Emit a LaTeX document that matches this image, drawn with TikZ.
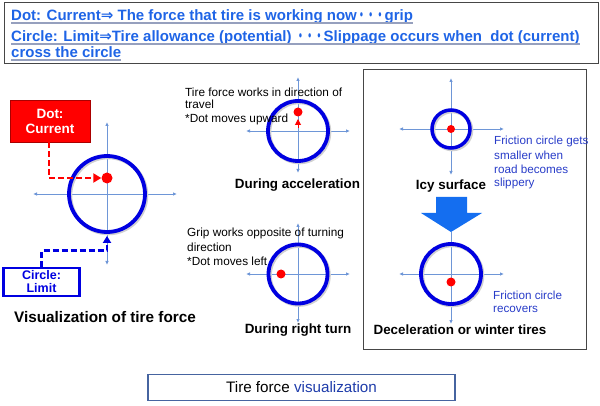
\documentclass[tikz,border=0pt]{standalone}
\usepackage{fontspec}
\usepackage{graphicx}
\setmainfont{Liberation Sans}
\newfontfamily\dejavu{DejaVu Sans}
\newfontfamily\cjk{Noto Sans CJK JP}
\usetikzlibrary{arrows.meta,calc}
\definecolor{tblue}{RGB}{30,100,230}
\definecolor{cblue}{RGB}{0,0,225}
\definecolor{axblue}{RGB}{110,150,215}
\definecolor{ulgray}{RGB}{150,160,190}
\definecolor{rtblue}{RGB}{40,60,200}
\definecolor{framec}{RGB}{70,70,70}
\definecolor{bboxc}{RGB}{70,100,160}
\definecolor{vblue}{RGB}{30,60,170}
\definecolor{bigarrow}{RGB}{20,110,240}
\definecolor{darkred}{RGB}{170,0,0}
\newcommand\tridots{\scalebox{0.62}[1]{\cjk ・・・}}
\tikzset{
  ax/.style={draw=axblue, line width=0.8pt, {Latex[length=4pt,width=3.5pt]}-{Latex[length=4pt,width=3.5pt]}},
  fc/.style={circle, draw=cblue, line width=3.8pt, inner sep=0pt},
  fcshadow/.style={draw=black!18, line width=4pt},
  reddot/.style={circle, fill=red, inner sep=0pt, minimum size=#1},
  ttl/.style={font=\bfseries\fontsize{15}{17}\selectfont, text=tblue, inner sep=0pt, anchor=base west},
  ul/.style={draw=ulgray, line width=1.8pt},
  small/.style={font=\fontsize{11.8}{13}\selectfont, inner sep=0pt, anchor=west},
  rsmall/.style={font=\fontsize{11.7}{13}\selectfont, text=rtblue, inner sep=0pt, anchor=west},
  captxt/.style={font=\bfseries\fontsize{13.4}{15}\selectfont, inner sep=0pt},
}
\begin{document}
\begin{tikzpicture}[x=1pt,y=-1pt]
\useasboundingbox (0,0) rectangle (600,406);

% top box
\draw[framec, line width=0.8pt] (4,2) rectangle (598,63);
\node[ttl] (t1) at (11,20.5) {Dot: Current{\dejavu ⇒} The force that tire is working now\tridots grip};
\node[ttl] (t2) at (11,41.5) {Circle: Limit{\dejavu ⇒}Tire allowance (potential) \tridots Slippage occurs when\ \ dot (current)};
\node[ttl] (t3) at (11,58) {cross the circle};
\draw[ul] ($(t1.base west)+(0,2.2)$) -- ($(t1.base east)+(0,2.2)$);
\draw[ul] ($(t2.base west)+(0,2.2)$) -- ($(t2.base east)+(0,2.2)$);
\draw[ul] ($(t3.base west)+(0,2.2)$) -- ($(t3.base east)+(0,2.2)$);

% left panel
\coordinate (o1) at (107,194);
\draw[ax] ($(o1)+(-74,0)$) -- ($(o1)+(70,0)$);
\draw[ax] ($(o1)+(0,-72)$) -- ($(o1)+(0,71)$);
\draw[fcshadow] ($(o1)+(1.3,1.3)$) circle (38);
\node[fc, minimum size=76pt] (c1) at (o1) {};
\node[reddot=11pt] (d1) at (107,178) {};
\node[fill=red, draw=darkred, line width=0.8pt, text=white, align=center,
      font=\bfseries\fontsize{13.5}{15}\selectfont, minimum width=80pt, minimum height=42pt, inner sep=0pt]
      (dotbox) at (50,121) {Dot:\\Current};
\draw[red, line width=2.8pt, dash pattern=on 6pt off 3pt, -{Triangle[length=8pt,width=9pt]}]
      ($(dotbox.south)+(-1,0)$) |- (d1.west);
\node[fill=white, draw=cblue, line width=2.2pt, text=cblue, align=center,
      font=\bfseries\fontsize{12.5}{13}\selectfont, minimum width=76pt, minimum height=28pt, inner sep=0pt]
      (limbox) at (41.5,282) {Circle:\\Limit};
\draw[cblue, line width=2.8pt, dash pattern=on 6pt off 3pt, -{Triangle[length=7pt,width=8pt]}, shorten >=2pt]
      (limbox.north) |- ($(c1.south)+(0,17)$) -- (c1.south);
\node[font=\bfseries\fontsize{15.3}{17}\selectfont, inner sep=0pt, anchor=west] (vis) at (14,317) {Visualization of tire force};

% middle top
\coordinate (o2) at (298,131);
\draw[ax] ($(o2)+(-52,0)$) -- ($(o2)+(52,0)$);
\draw[ax] ($(o2)+(0,-54)$) -- ($(o2)+(0,42)$);
\draw[fcshadow] ($(o2)+(1.3,1.3)$) circle (30);
\node[fc, minimum size=60pt] (c2) at (o2) {};
\node[reddot=9pt] (d2) at (298,112) {};
\draw[red, line width=1pt, -{Triangle[length=6pt,width=6pt]}] ($(o2)+(0,-3)$) -- ($(o2)+(0,-12)$);
\node[small] (a1) at (185,92) {Tire force works in direction of};
\node[small] (a2) at (185,104.5) {travel};
\node[small] (a3) at (185,119) {*Dot moves upward};
\node[captxt] (acc) at (297.5,185) {During acceleration};

% middle bottom
\coordinate (o3) at (298,274);
\draw[ax] ($(o3)+(-52,0)$) -- ($(o3)+(52,0)$);
\draw[ax] ($(o3)+(0,-51)$) -- ($(o3)+(0,49)$);
\draw[fcshadow] ($(o3)+(1.3,1.3)$) circle (29.5);
\node[fc, minimum size=59pt] (c3) at (o3) {};
\node[reddot=9pt] (d3) at (281,274) {};
\node[small] (b1) at (187,233) {Grip works opposite of turning};
\node[small] (b2) at (187,247) {direction};
\node[small] (b3) at (187,261) {*Dot moves left};
\node[captxt] (turn) at (298,330) {During right turn};

% right panel
\draw[framec, line width=0.8pt] (363,69) rectangle (586,349);
\coordinate (o4) at (451,129);
\draw[ax] ($(o4)+(-52,0)$) -- ($(o4)+(53,0)$);
\draw[ax] ($(o4)+(0,-51)$) -- ($(o4)+(0,46)$);
\draw[fcshadow] ($(o4)+(1.3,1.3)$) circle (19);
\node[fc, minimum size=38pt, line width=3.5pt] (c4) at (o4) {};
\node[reddot=8pt] (d4) at (o4) {};
\node[captxt] (icy) at (451,186) {Icy surface};
\node[rsmall] (r1) at (494,141) {Friction circle gets};
\node[rsmall] (r2) at (494,155) {smaller when};
\node[rsmall] (r3) at (494,169) {road becomes};
\node[rsmall] (r4) at (494,183) {slippery};

\coordinate (o5) at (451,274);
\draw[ax] ($(o5)+(-52,0)$) -- ($(o5)+(53,0)$);
\draw[axblue, line width=0.8pt, -{Latex[length=4pt,width=3.5pt]}] (451,232) -- (451,324);
\fill[bigarrow] (436,197) -- (467,197) -- (467,213) -- (482,213) -- (451,232) -- (421,213) -- (436,213) -- cycle;
\draw[fcshadow] ($(o5)+(1.3,1.3)$) circle (30);
\node[fc, minimum size=60pt] (c5) at (o5) {};
\node[reddot=9pt] (d5) at (451,282) {};
\node[rsmall] (s1) at (493,295) {Friction circle};
\node[rsmall] (s2) at (493,309) {recovers};
\node[captxt] (dec) at (460,330) {Deceleration or winter tires};

% bottom box
\node[draw=bboxc, line width=1.2pt, minimum width=307pt, minimum height=26pt, inner sep=0pt,
      font=\fontsize{15.2}{17}\selectfont] (bot) at (301.5,387.5) {Tire force \textcolor{vblue}{visualization}};
\end{tikzpicture}
\end{document}
